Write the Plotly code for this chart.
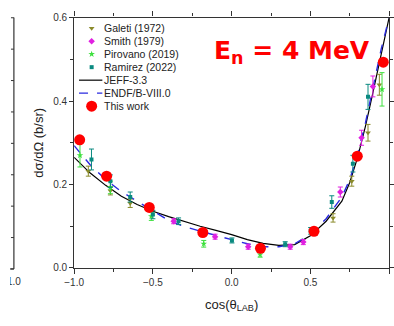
import plotly.graph_objects as go

# ---------------- data ----------------
jeff_x = [-1.0, -0.9, -0.8, -0.7, -0.6, -0.5, -0.4, -0.3, -0.2, -0.1, 0.0, 0.1, 0.2, 0.3, 0.4, 0.5, 0.6, 0.7, 0.75, 0.8, 0.85, 0.9, 0.95, 1.0]
jeff_y = [0.265, 0.228, 0.198, 0.172, 0.152, 0.136, 0.123, 0.111, 0.100, 0.090, 0.080, 0.068, 0.059, 0.054, 0.056, 0.077, 0.112, 0.160, 0.205, 0.265, 0.340, 0.425, 0.510, 0.600]

endf_x = jeff_x
endf_y = [0.293, 0.248, 0.212, 0.183, 0.160, 0.138, 0.114, 0.099, 0.088, 0.078, 0.068, 0.058, 0.051, 0.051, 0.058, 0.080, 0.118, 0.170, 0.212, 0.272, 0.348, 0.435, 0.525, 0.600]

galeti_x = [-0.91, -0.77, -0.644, 0.644, 0.763, 0.866, 0.938]
galeti_y = [0.232, 0.185, 0.155, 0.120, 0.208, 0.324, 0.439]
galeti_e = [0.012, 0.010, 0.010, 0.010, 0.012, 0.020, 0.025]

smith_x = [-0.368, -0.105, 0.105, 0.372, 0.455, 0.69, 0.825, 0.897]
smith_y = [0.112, 0.075, 0.051, 0.051, 0.062, 0.182, 0.312, 0.435]
smith_e = [0.006, 0.006, 0.006, 0.006, 0.006, 0.012, 0.018, 0.025]

pirovano_x = [-0.963, -0.77, -0.51, -0.177, 0.181, 0.955]
pirovano_y = [0.270, 0.193, 0.124, 0.058, 0.032, 0.428]
pirovano_e = [0.028, 0.015, 0.010, 0.008, 0.006, 0.040]

ramirez_x = [-0.89, -0.77, -0.644, -0.50, -0.337, 0.002, 0.34, 0.502, 0.636, 0.77, 0.866]
ramirez_y = [0.260, 0.208, 0.170, 0.128, 0.112, 0.066, 0.057, 0.089, 0.158, 0.250, 0.410]
ramirez_e = [0.025, 0.015, 0.012, 0.010, 0.008, 0.006, 0.006, 0.008, 0.015, 0.020, 0.030]

work_x = [-0.965, -0.794, -0.523, -0.183, 0.183, 0.523, 0.798, 0.963]
work_y = [0.307, 0.220, 0.145, 0.085, 0.047, 0.088, 0.268, 0.493]

x_tick_step = 0.5
y_tick_step = 0.2

W, H = 394, 326
FONT = "Liberation Sans, Arial, sans-serif"

C_GAL = "#8a8a2a"
C_SMI = "#e020e0"
C_PIR = "#3ee03e"
C_RAM = "#0a8a80"
C_RED = "#ff0000"
C_BLU = "#2a2ae0"
C_AX = "#333"

fig = go.Figure()

fig.add_trace(go.Scatter(x=jeff_x, y=jeff_y, mode="lines", line=dict(color="black", width=1.2), name="JEFF-3.3"))
fig.add_trace(go.Scatter(x=endf_x, y=endf_y, mode="lines", line=dict(color=C_BLU, width=1.4, dash="dash"), name="ENDF/B-VIII.0"))

def exp_trace(x, y, e, color, symbol, size, name):
    return go.Scatter(x=x, y=y, mode="markers", name=name,
                      marker=dict(color=color, symbol=symbol, size=size, line=dict(width=0)),
                      error_y=dict(type="data", array=e, color=color, thickness=1, width=2.5))

fig.add_trace(exp_trace(galeti_x, galeti_y, galeti_e, C_GAL, "triangle-down", 5, "Galeti (1972)"))
fig.add_trace(exp_trace(smith_x, smith_y, smith_e, C_SMI, "diamond", 5, "Smith (1979)"))
fig.add_trace(exp_trace(pirovano_x, pirovano_y, pirovano_e, C_PIR, "star", 5, "Pirovano (2019)"))
fig.add_trace(exp_trace(ramirez_x, ramirez_y, ramirez_e, C_RAM, "square", 4, "Ramirez (2022)"))
fig.add_trace(go.Scatter(x=work_x, y=work_y, mode="markers", name="This work",
                         marker=dict(color=C_RED, size=11, line=dict(width=0)), cliponaxis=False))

for tr in fig.data:
    tr.showlegend = False

# ---------------- custom compact legend (overlay pixel axes) ----------------
leg_names = ["Galeti (1972)", "Smith (1979)", "Pirovano (2019)", "Ramirez (2022)", "JEFF-3.3", "ENDF/B-VIII.0", "This work"]
leg_kind = ["triangle-down", "diamond", "star", "square", "solid", "dash", "circle"]
leg_color = [C_GAL, C_SMI, C_PIR, C_RAM, "black", C_BLU, C_RED]
leg_size = [5, 5, 5, 4, 0, 0, 11]
leg_top, leg_step, sym_x, line_x0, line_x1, text_x = 23, 13.5, 84, 71, 95, 95

for i, (nm, kind, col, sz) in enumerate(zip(leg_names, leg_kind, leg_color, leg_size)):
    yy = leg_top + i * leg_step
    if kind in ("solid", "dash"):
        fig.add_trace(go.Scatter(x=[line_x0, line_x1], y=[yy, yy], mode="lines", xaxis="x3", yaxis="y3",
                                 line=dict(color=col, width=1.2 if kind == "solid" else 1.4, dash=kind),
                                 showlegend=False, hoverinfo="skip"))
    else:
        fig.add_trace(go.Scatter(x=[sym_x], y=[yy], mode="markers", xaxis="x3", yaxis="y3",
                                 marker=dict(color=col, symbol=kind, size=sz, line=dict(width=0)),
                                 showlegend=False, hoverinfo="skip"))
    fig.add_annotation(x=text_x, y=yy, xref="x3", yref="y3", text=nm, showarrow=False,
                       xanchor="left", yanchor="middle", font=dict(family=FONT, size=10.5, color="#222"))

# ---------------- edge of the neighbouring panel (decoration, pixel coords) ----------------
nb_x, nb_top, nb_bottom, nb_step = 4, 12, 273, 32.6
fig.add_shape(type="line", xref="x3", yref="y3", x0=nb_x, x1=nb_x, y0=nb_top, y1=nb_bottom,
              line=dict(color=C_AX, width=1.2))
for k in range(9):
    ty = nb_bottom - k * nb_step
    fig.add_shape(type="line", xref="x3", yref="y3", x0=nb_x - 3, x1=nb_x, y0=ty, y1=ty,
                  line=dict(color=C_AX, width=1))
fig.add_shape(type="line", xref="x3", yref="y3", x0=0, x1=nb_x, y0=nb_bottom, y1=nb_bottom,
              line=dict(color=C_AX, width=1.2))
fig.add_trace(go.Scatter(x=[nb_x], y=[287], xaxis="x3", yaxis="y3", mode="text", text=["1.0"],
                         textposition="middle center", textfont=dict(family=FONT, size=10, color=C_AX),
                         showlegend=False, hoverinfo="skip"))

axis_common = dict(showline=True, linecolor=C_AX, linewidth=1.2, mirror="ticks", ticks="outside",
                   tickcolor=C_AX, showgrid=False, zeroline=False,
                   tickfont=dict(family=FONT, size=10, color=C_AX))

fig.update_layout(
    width=W, height=H,
    margin=dict(l=0, r=0, t=0, b=0),
    paper_bgcolor="white", plot_bgcolor="rgba(0,0,0,0)",
    showlegend=False,
    xaxis=dict(domain=[66 / W, 390 / W], range=[-1.0, 1.0], tick0=-1.0, dtick=x_tick_step, tickformat=".1f",
               ticklen=5, minor=dict(dtick=x_tick_step / 2, ticks="outside", ticklen=3, tickcolor=C_AX),
               title=dict(text="cos(θ<sub>LAB</sub>)", font=dict(family=FONT, size=13, color="#222"), standoff=12),
               anchor="y", **axis_common),
    yaxis=dict(domain=[(H - 272) / H, (H - 12) / H], range=[0.0, 0.6], tick0=0.0, dtick=y_tick_step, tickformat=".1f",
               ticklen=4, minor=dict(dtick=y_tick_step / 2, ticks="outside", ticklen=3, tickcolor=C_AX),
               title=dict(text="dσ/dΩ (b/sr)", font=dict(family=FONT, size=13, color="#222"), standoff=6),
               anchor="x", **axis_common),
    xaxis3=dict(domain=[0, 1], range=[0, W], visible=False, anchor="y3"),
    yaxis3=dict(domain=[0, 1], range=[H, 0], visible=False, anchor="x3"),
)

fig.add_annotation(x=290.5, y=48, xref="x3", yref="y3", showarrow=False,
                   text="<b>E<sub>n</sub> = 4 MeV</b>",
                   font=dict(family="DejaVu Sans, sans-serif", size=25, color=C_RED))

fig.write_html("out.html")
